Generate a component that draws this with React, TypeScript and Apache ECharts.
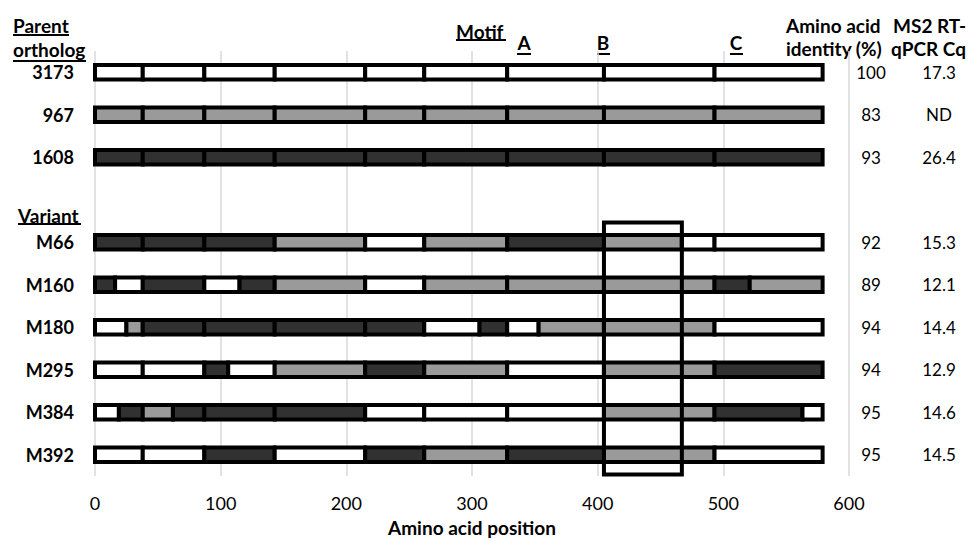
import React, { useEffect, useRef } from "react";
import * as echarts from "echarts";

// ---- data ----
const categories = ["3173", "967", "1608", "", "M66", "M160", "M180", "M295", "M384", "M392"];
const identityPct = ["100", "83", "93", "", "92", "89", "94", "94", "95", "95"];
const cqValues = ["17.3", "ND", "26.4", "", "15.3", "12.1", "14.4", "12.9", "14.6", "14.5"];
const xTicks = [0, 600, 100]; // min, max, interval

// segments: [start, end, tone]  W = white, G = gray, D = dark
const seg3173 = [[0, 38, "W"], [38, 87, "W"], [87, 143, "W"], [143, 215, "W"], [215, 262, "W"], [262, 328, "W"], [328, 405, "W"], [405, 493, "W"], [493, 579, "W"]];
const seg967 = [[0, 38, "G"], [38, 87, "G"], [87, 143, "G"], [143, 215, "G"], [215, 262, "G"], [262, 328, "G"], [328, 405, "G"], [405, 493, "G"], [493, 579, "G"]];
const seg1608 = [[0, 38, "D"], [38, 87, "D"], [87, 143, "D"], [143, 215, "D"], [215, 262, "D"], [262, 328, "D"], [328, 405, "D"], [405, 493, "D"], [493, 579, "D"]];
const segGap: any[] = [];
const segM66 = [[0, 38, "D"], [38, 87, "D"], [87, 143, "D"], [143, 215, "G"], [215, 262, "W"], [262, 328, "G"], [328, 405, "D"], [405, 467, "G"], [467, 493, "W"], [493, 579, "W"]];
const segM160 = [[0, 16, "D"], [16, 38, "W"], [38, 87, "D"], [87, 115, "W"], [115, 143, "D"], [143, 215, "G"], [215, 262, "W"], [262, 328, "G"], [328, 405, "G"], [405, 493, "G"], [493, 521, "D"], [521, 579, "G"]];
const segM180 = [[0, 25, "W"], [25, 38, "G"], [38, 87, "D"], [87, 143, "D"], [143, 215, "D"], [215, 262, "D"], [262, 306, "W"], [306, 328, "D"], [328, 353, "W"], [353, 405, "G"], [405, 493, "G"], [493, 579, "W"]];
const segM295 = [[0, 38, "W"], [38, 87, "W"], [87, 106, "D"], [106, 143, "W"], [143, 215, "G"], [215, 262, "D"], [262, 328, "G"], [328, 405, "W"], [405, 493, "G"], [493, 579, "D"]];
const segM384 = [[0, 19, "W"], [19, 38, "D"], [38, 62, "G"], [62, 87, "D"], [87, 143, "D"], [143, 215, "D"], [215, 262, "W"], [262, 328, "W"], [328, 405, "W"], [405, 493, "G"], [493, 563, "D"], [563, 579, "W"]];
const segM392 = [[0, 38, "W"], [38, 87, "W"], [87, 143, "D"], [143, 215, "W"], [215, 262, "D"], [262, 328, "G"], [328, 405, "D"], [405, 493, "G"], [493, 579, "W"]];

const rowSegments = [seg3173, seg967, seg1608, segGap, segM66, segM160, segM180, segM295, segM384, segM392];

// highlighted region: [firstRow, lastRow, start, end]
const boxRegion = [4, 9, 405, 467];

const toneColor: Record<string, string> = { W: "#ffffff", G: "#9a9a9a", D: "#313131" };
const FONT = "Lato";

export default function App() {
  const ref = useRef<HTMLDivElement>(null);

  useEffect(() => {
    if (!ref.current) return;
    const chart = echarts.init(ref.current, undefined, { renderer: "svg" });

    const segData: any[] = [];
    rowSegments.forEach((segs, r) => {
      segs.forEach((s: any) => segData.push([r, s[0], s[1], s[2]]));
    });

    const txt = (text: string, x: number, y: number, opts: any = {}) => ({
      type: "text",
      x,
      y,
      style: {
        text,
        fontFamily: FONT,
        fontSize: 19,
        fontWeight: "bold",
        fill: "#000",
        textVerticalAlign: "middle",
        ...opts,
      },
    });
    const uline = (x1: number, x2: number, y: number) => ({
      type: "line",
      shape: { x1, y1: y, x2, y2: y },
      style: { stroke: "#000", lineWidth: 2 },
    });

    chart.setOption({
      animation: false,
      grid: { left: 95, right: 127, top: 51, bottom: 63, outerBoundsMode: "none", containLabel: false },
      xAxis: {
        type: "value",
        min: xTicks[0],
        max: xTicks[1],
        interval: xTicks[2],
        name: "Amino acid position",
        nameLocation: "middle",
        nameGap: 42,
        nameTextStyle: { fontFamily: FONT, fontSize: 19, fontWeight: "bold", color: "#000" },
        axisLine: { show: false },
        axisTick: { show: false },
        axisLabel: { fontFamily: FONT, fontSize: 18, color: "#000", margin: 18 },
        splitLine: { show: true, lineStyle: { color: "#d9d9d9", width: 1.5 } },
      },
      yAxis: [
        {
          type: "category",
          data: categories,
          inverse: true,
          axisLine: { show: false },
          axisTick: { show: false },
          splitLine: { show: false },
          axisLabel: { fontFamily: FONT, fontSize: 18, fontWeight: "bold", color: "#000", margin: 21 },
        },
        {
          type: "category",
          data: categories,
          inverse: true,
          position: "right",
          axisLine: { show: false },
          axisTick: { show: false },
          splitLine: { show: false },
          axisLabel: {
            margin: 2,
            formatter: (_v: string, i: number) => `{a|${identityPct[i]}}{b|${cqValues[i]}}`,
            rich: {
              a: { width: 40, align: "center", fontFamily: FONT, fontSize: 17, color: "#000" },
              b: { width: 96, align: "center", fontFamily: FONT, fontSize: 17, color: "#000" },
            },
          },
        },
      ],
      series: [
        {
          type: "custom",
          yAxisIndex: 0,
          encode: { x: [1, 2], y: 0 },
          data: segData,
          renderItem: (params: any, api: any) => {
            const row = api.value(0);
            const p0 = api.coord([api.value(1), row]);
            const p1 = api.coord([api.value(2), row]);
            const h = 14.5;
            const tone = segData[params.dataIndex][3];
            return {
              type: "rect",
              shape: { x: p0[0], y: p0[1] - h / 2, width: p1[0] - p0[0], height: h },
              style: { fill: toneColor[tone], stroke: "#000", lineWidth: 4 },
            };
          },
          z: 2,
        },
        {
          type: "custom",
          yAxisIndex: 0,
          encode: { x: [2, 3], y: [0, 1] },
          data: [boxRegion],
          renderItem: (_params: any, api: any) => {
            const band = api.size([0, 1])[1];
            const a = api.coord([api.value(2), api.value(0)]);
            const b = api.coord([api.value(3), api.value(1)]);
            const top = a[1] - band / 2 + 1.5;
            const bottom = b[1] + band / 2 - 1.5;
            return {
              type: "rect",
              shape: { x: a[0], y: top, width: b[0] - a[0], height: bottom - top },
              style: { fill: "none", stroke: "#000", lineWidth: 4 },
            };
          },
          z: 3,
        },
      ],
      graphic: [
        txt("Parent", 13, 25),
        uline(13, 69, 35),
        txt("ortholog", 13, 49),
        uline(13, 86, 61),
        txt("Variant", 18, 215),
        uline(18, 81, 224),
        txt("Motif", 456, 31),
        uline(456, 506, 40),
        txt("A", 524, 42, { textAlign: "center" }),
        uline(517, 531, 54),
        txt("B", 603, 42, { textAlign: "center" }),
        uline(597, 610, 54),
        txt("C", 736, 42, { textAlign: "center" }),
        uline(730, 743, 54),
        txt("Amino acid", 786, 25),
        txt("identity (%)", 786, 48),
        txt("MS2 RT-", 893, 25),
        txt("qPCR Cq", 891, 48),
      ],
    });

    return () => chart.dispose();
  }, []);

  return (
    <div
      ref={ref}
      style={{ position: "fixed", left: 0, top: 0, width: 976, height: 539, background: "#fff" }}
    />
  );
}
